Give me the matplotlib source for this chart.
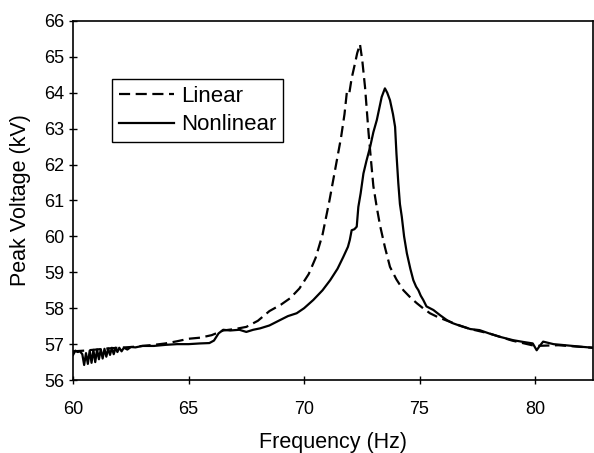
import matplotlib
matplotlib.use("Agg")
import matplotlib.pyplot as plt

plt.rcParams['font.family'] = ['Liberation Sans', 'DejaVu Sans']

# Linear model response (dashed)
lin_f = [60.0, 60.5, 61.0, 61.5, 62.0, 62.5, 63.0, 63.5, 64.0, 64.5, 65.0, 65.5,
         66.0, 66.5, 67.0, 67.5, 68.0, 68.5, 69.0, 69.4, 69.8, 70.2, 70.5, 70.8,
         71.1, 71.4, 71.6, 71.75, 71.85, 71.95, 72.06, 72.2, 72.3, 72.42, 72.52,
         72.64, 72.79, 72.9, 73.0, 73.15, 73.29, 73.5, 73.72, 74.0, 74.3, 74.6,
         74.88, 75.15, 75.45, 75.8, 76.2, 76.6, 77.2, 78.0, 79.0, 80.0, 81.0, 82.5]
lin_v = [56.8, 56.82, 56.85, 56.88, 56.9, 56.92, 56.95, 56.98, 57.02, 57.08, 57.15, 57.18,
         57.25, 57.38, 57.42, 57.48, 57.65, 57.92, 58.1, 58.28, 58.55, 58.95, 59.4, 60.05,
         61.0, 62.05, 62.75, 63.4, 64.0, 63.95, 64.4, 64.8, 65.1, 65.35, 64.9,
         64.15, 62.9, 62.1, 61.4, 60.8, 60.3, 59.7, 59.15, 58.8, 58.5, 58.3,
         58.14, 58.0, 57.86, 57.75, 57.65, 57.55, 57.42, 57.3, 57.1, 56.95, 56.97, 56.9]

# Nonlinear model response (solid)
nl_f = [60.0, 60.1, 60.2, 60.3, 60.4, 60.48, 60.56, 60.64, 60.72, 60.8, 60.88, 60.96,
        61.04, 61.12, 61.2, 61.28, 61.36, 61.44, 61.52, 61.6, 61.68, 61.76, 61.84,
        61.92, 62.0, 62.1, 62.2, 62.35, 62.5, 62.7, 63.0,
        63.5, 64.0, 64.5, 65.0, 65.5, 65.9, 66.1, 66.3, 66.5, 66.8, 67.2, 67.5,
        67.8, 68.1, 68.5, 68.96, 69.3, 69.68, 70.0, 70.4, 70.8, 71.13, 71.45, 71.7,
        71.9, 71.98, 72.06, 72.18, 72.28, 72.35, 72.45, 72.57, 72.7, 72.86, 73.0,
        73.15, 73.36, 73.5, 73.6, 73.72, 73.85, 73.94, 74.0, 74.08, 74.15, 74.23,
        74.33, 74.45, 74.6, 74.73, 74.85, 74.95, 75.05, 75.16, 75.3, 75.45, 75.6,
        75.9, 76.18, 76.45, 76.8, 77.2, 77.6, 78.0, 78.5, 79.05, 79.5, 79.9, 80.07,
        80.2, 80.35, 80.8, 81.3, 81.95, 82.5]
nl_v = [56.7, 56.82, 56.78, 56.8, 56.72, 56.42, 56.75, 56.45, 56.82, 56.48, 56.84, 56.5,
        56.85, 56.58, 56.86, 56.6, 56.87, 56.65, 56.88, 56.7, 56.9, 56.72, 56.9,
        56.78, 56.9, 56.8, 56.9, 56.85, 56.92, 56.91, 56.95,
        56.95, 56.98, 57.0, 57.0, 57.02, 57.03, 57.1, 57.3, 57.4, 57.38, 57.4, 57.34,
        57.4, 57.44, 57.52, 57.67, 57.78, 57.86, 58.0, 58.23, 58.5, 58.78, 59.1, 59.43,
        59.71, 59.9, 60.17, 60.2, 60.27, 60.82, 61.2, 61.75, 62.1, 62.49, 62.9,
        63.24, 63.88, 64.12, 64.0, 63.79, 63.4, 63.05, 62.3, 61.48, 60.9, 60.55,
        60.0, 59.53, 59.1, 58.78, 58.6, 58.5, 58.35, 58.23, 58.05, 58.0, 57.95,
        57.8, 57.67, 57.58, 57.5, 57.42, 57.39, 57.3, 57.2, 57.11, 57.06, 57.02, 56.83,
        56.95, 57.07, 57.0, 56.97, 56.93, 56.9]

x_ticks = [60, 65, 70, 75, 80]
y_ticks = [56, 57, 58, 59, 60, 61, 62, 63, 64, 65, 66]

fig = plt.figure(figsize=(5.94, 4.53), dpi=100)
ax = fig.add_axes([0.123, 0.161, 0.875, 0.793])

ax.plot(lin_f, lin_v, color='black', linestyle=(0, (5, 2.5)), linewidth=1.6, label='Linear')
ax.plot(nl_f, nl_v, color='black', linestyle='-', linewidth=1.6, label='Nonlinear')

ax.set_xlim(60, 82.5)
ax.set_ylim(56, 66)
ax.set_xticks(x_ticks)
ax.set_yticks(y_ticks)
ax.tick_params(direction='inout', length=6, width=1, labelsize=13, colors='black')
ax.tick_params(axis='x', pad=12)
for s in ax.spines.values():
    s.set_linewidth(1.2)
    s.set_color('black')

ax.set_xlabel('Frequency (Hz)', fontsize=15.5, labelpad=10)
ax.set_ylabel('Peak Voltage (kV)', fontsize=15.5, labelpad=9)

leg = ax.legend(loc='upper left', bbox_to_anchor=(0.075, 0.838), fontsize=16,
                frameon=True, fancybox=False, edgecolor='black', framealpha=1,
                handlelength=2.5, handletextpad=0.3, borderpad=0.3, labelspacing=0.35,
                borderaxespad=0)
leg.get_frame().set_linewidth(1.0)

fig.savefig('out.png', dpi=100)
